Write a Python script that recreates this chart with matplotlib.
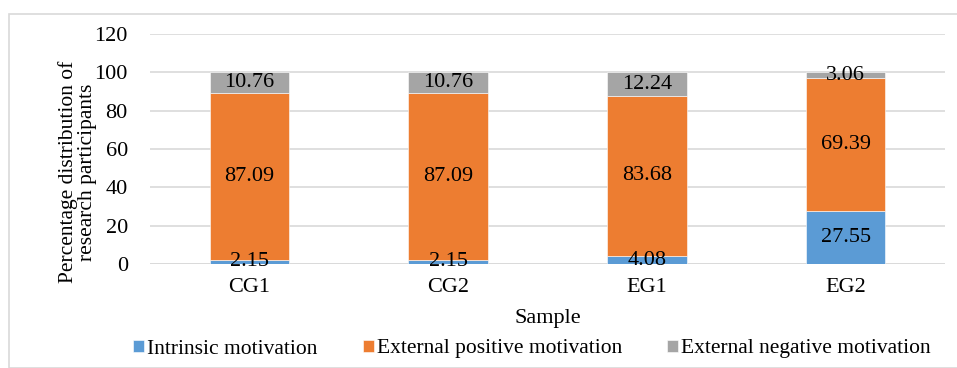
import matplotlib
matplotlib.use("Agg")
import matplotlib.pyplot as plt
from matplotlib.patches import Rectangle
import numpy as np

categories = ["CG1", "CG2", "EG1", "EG2"]
intrinsic = [2.15, 2.15, 4.08, 27.55]
ext_positive = [87.09, 87.09, 83.68, 69.39]
ext_negative = [10.76, 10.76, 12.24, 3.06]
series_names = ["Intrinsic motivation", "External positive motivation", "External negative motivation"]
colors = ["#5B9BD5", "#ED7D31", "#A5A5A5"]
yticks = [0, 20, 40, 60, 80, 100, 120]

plt.rcParams['font.family'] = ['Liberation Serif', 'DejaVu Serif']
FS = 16

fig = plt.figure(figsize=(9.57, 3.68), dpi=100)
fig.patches.append(Rectangle((9/957, 0), 1.5, 1 - 14/368, transform=fig.transFigure,
                             fill=False, edgecolor="#D9D9D9", linewidth=1.2))
ax = fig.add_axes([150/957, 1 - 264/368, 795/957, 230/368])

x = np.arange(len(categories))
w = 0.4
bottom = np.zeros(len(categories))
for vals, name, c in zip([intrinsic, ext_positive, ext_negative], series_names, colors):
    vals = np.array(vals)
    ax.bar(x, vals, w, bottom=bottom, color=c, label=name, zorder=3,
           edgecolor="white", linewidth=0.4)
    for xi, b, v in zip(x, bottom, vals):
        ax.text(xi, b + v / 2, f"{v:.2f}", ha="center", va="center", fontsize=FS,
                color="black", zorder=5)
    bottom += vals

ax.set_xlim(-0.5, 3.5)
ax.set_ylim(0, 120)
ax.set_yticks(yticks)
ax.set_xticks(x)
ax.set_xticklabels(categories)
ax.tick_params(axis="both", length=0, labelsize=FS, colors="black")
ax.tick_params(axis="y", pad=16)
ax.tick_params(axis="x", pad=10)
ax.yaxis.grid(True, color="#D9D9D9", linewidth=1.2, zorder=0)
ax.set_axisbelow(True)
for s in ax.spines.values():
    s.set_visible(False)
ax.axhline(0, color="#D9D9D9", linewidth=1.2, zorder=1)

ax.set_ylabel("Percentage distribution of\nresearch participants", fontsize=15.5,
              linespacing=0.95, va="center")
ax.yaxis.set_label_coords(-0.091, 0.40)
ax.set_xlabel("Sample", fontsize=FS, labelpad=9)

leg = fig.legend(loc="center", bbox_to_anchor=(0.556, 1 - 349/368), ncol=3, frameon=False,
                 fontsize=15.5, handlelength=0.5, handleheight=0.5, handletextpad=0.15,
                 columnspacing=2.1)

fig.savefig("out.png", dpi=100)
